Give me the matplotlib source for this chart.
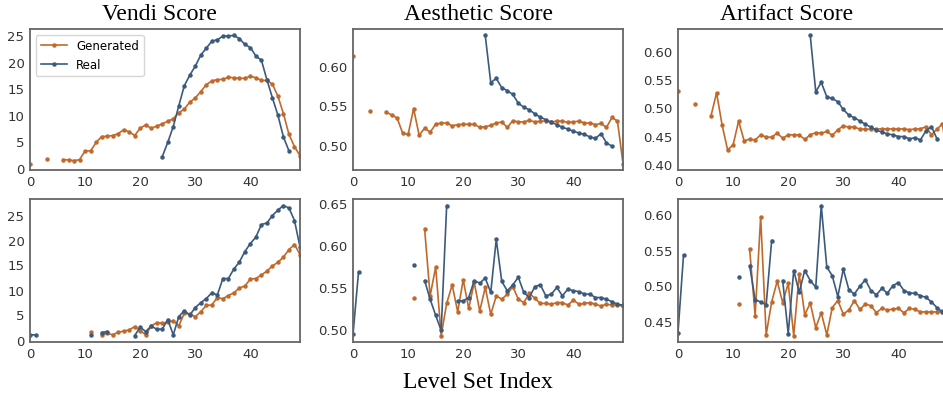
import numpy as np
import matplotlib
matplotlib.use("Agg")
import matplotlib.pyplot as plt
from matplotlib.ticker import MultipleLocator, FormatStrFormatter

nan = np.nan
x = np.arange(50)

# ---- top row ----
vendi_gen_top = [1.0, nan, nan, 1.9, nan, nan, 1.75, 1.7, 1.55, 1.75,
                 3.4, 3.4, 5.0, 6.1, 6.15, 6.3, 6.65, 7.4, 7.0, 6.3,
                 7.7, 8.3, 7.65, 8.1, 8.5, 9.0, 9.45, 10.6, 11.3, 12.6,
                 13.4, 14.6, 15.9, 16.6, 16.85, 16.9, 17.3, 17.2, 17.1, 17.1,
                 17.5, 17.2, 16.7, 16.7, 16.0, 13.7, 10.4, 6.5, 4.2, 2.5]
vendi_real_top = [nan] * 24 + [2.3, 5.0, 8.0, 11.9, 15.7, 17.7, 19.4, 21.5, 22.8, 24.1,
                               24.4, 25.05, 25.1, 25.2, 24.6, 23.5, 22.9, 21.3, 20.5, 16.8,
                               13.4, 10.1, 6.0, 3.4, nan, nan]

aes_gen_top = [0.6134, nan, nan, 0.5445, nan, nan, 0.5424, 0.539, 0.535, 0.516,
               0.514, 0.547, 0.513, 0.522, 0.517, 0.527, 0.5286, 0.5286, 0.525, 0.5265,
               0.527, 0.527, 0.527, 0.523, 0.524, 0.5256, 0.5286, 0.5298, 0.523, 0.5315,
               0.530, 0.530, 0.532, 0.530, 0.531, 0.531, 0.530, 0.531, 0.531, 0.5294,
               0.530, 0.531, 0.5286, 0.5286, 0.5265, 0.528, 0.523, 0.5357, 0.531, 0.477]
aes_real_top = [nan] * 24 + [0.640, 0.580, 0.5853, 0.5735, 0.5697, 0.565, 0.5538, 0.5487, 0.5454, 0.5403,
                             0.536, 0.5328, 0.5294, 0.5265, 0.523, 0.521, 0.518, 0.516, 0.514, 0.511,
                             0.509, 0.515, 0.5034, 0.499, nan, nan]

art_gen_top = [0.5306, nan, nan, 0.5076, nan, nan, 0.487, 0.5276, 0.4706, 0.4265,
               0.435, 0.4776, 0.4424, 0.4453, 0.444, 0.453, 0.449, 0.449, 0.456, 0.447,
               0.453, 0.453, 0.453, 0.445, 0.453, 0.457, 0.456, 0.459, 0.452, 0.462,
               0.469, 0.4665, 0.467, 0.463, 0.463, 0.463, 0.4635, 0.4635, 0.4635, 0.4635,
               0.4635, 0.4635, 0.462, 0.4635, 0.4635, 0.4676, 0.453, 0.4635, 0.472, 0.402]
art_real_top = [nan] * 24 + [0.6294, 0.5294, 0.546, 0.5206, 0.5176, 0.5118, 0.498, 0.488, 0.4835, 0.4776,
                             0.4718, 0.4665, 0.4618, 0.4576, 0.4547, 0.453, 0.450, 0.450, 0.4459, 0.448,
                             0.444, 0.460, 0.4676, 0.4459, nan, nan]

# ---- bottom row ----
vendi_gen_bot = [nan] * 11 + [1.66, nan, 1.13, 1.46, 1.13, 1.66, 1.86, 2.12, 2.8,
                              2.0, 1.13, 2.9, 3.58, 3.45, 3.65, 3.98, 2.92, 5.44, 5.3,
                              4.77, 5.77, 7.03, 7.1, 8.6, 8.36, 9.0, 9.55, 10.5, 10.9,
                              12.3, 12.4, 13.1, 13.9, 14.9, 15.65, 16.7, 18.2, 19.2, 17.2]
vendi_real_bot = [1.13, 1.13, nan, nan, nan, nan, nan, nan, nan, nan,
                  nan, 1.13, nan, 1.6, 1.8, nan, nan, nan, nan, 1.0,
                  2.65, 1.8, 2.9, 2.25, 2.25, 4.2, 1.13, 4.77, 5.97, 5.1,
                  6.6, 7.56, 8.4, 9.55, 9.1, 12.4, 12.4, 14.3, 15.7, 17.8,
                  19.4, 20.7, 23.2, 23.5, 25.0, 26.1, 27.0, 26.5, 24.0, 18.7]

aes_gen_bot = [nan] * 11 + [0.538, nan, 0.620, 0.541, 0.575, 0.494, 0.532, 0.554, 0.522,
                            0.560, 0.526, 0.557, 0.523, 0.551, 0.519, 0.541, 0.537, 0.543, 0.552,
                            0.537, 0.533, 0.544, 0.538, 0.532, 0.532, 0.531, 0.533, 0.533, 0.530,
                            0.536, 0.531, 0.532, 0.533, 0.531, 0.529, 0.531, 0.530, 0.530, 0.529]
aes_real_bot = [0.4952, 0.569, nan, nan, nan, nan, nan, nan, nan, nan,
                nan, 0.578, nan, 0.559, 0.537, 0.518, 0.500, 0.648, nan, 0.535,
                0.535, 0.539, 0.559, 0.556, 0.562, 0.545, 0.608, 0.558, 0.547, 0.554,
                0.563, 0.545, 0.539, 0.552, 0.554, 0.541, 0.543, 0.551, 0.541, 0.549,
                0.547, 0.546, 0.543, 0.543, 0.539, 0.539, 0.537, 0.534, 0.531, 0.530]

art_gen_bot = [nan] * 11 + [0.475, nan, 0.552, 0.459, 0.597, 0.432, 0.478, 0.507, 0.477,
                            0.504, 0.431, 0.517, 0.460, 0.4764, 0.442, 0.463, 0.432, 0.470, 0.480,
                            0.461, 0.4665, 0.480, 0.4675, 0.475, 0.4726, 0.463, 0.469, 0.4665, 0.468,
                            0.469, 0.4627, 0.469, 0.4675, 0.464, 0.464, 0.464, 0.464, 0.465, 0.464]
art_real_bot = [0.435, 0.5436, nan, nan, nan, nan, nan, nan, nan, nan,
                nan, 0.513, nan, 0.529, 0.481, 0.478, 0.474, 0.564, nan, 0.508,
                0.4335, 0.522, 0.4915, 0.522, 0.508, 0.4986, 0.613, 0.527, 0.5146, 0.4854,
                0.524, 0.4953, 0.489, 0.500, 0.509, 0.494, 0.488, 0.497, 0.490, 0.501,
                0.505, 0.494, 0.4906, 0.490, 0.4868, 0.4844, 0.478, 0.470, 0.464, 0.458]

titles = ["Vendi Score", "Aesthetic Score", "Artifact Score"]
title_x = [159, 479, 787]
top_row = [(vendi_gen_top, vendi_real_top), (aes_gen_top, aes_real_top), (art_gen_top, art_real_top)]
bot_row = [(vendi_gen_bot, vendi_real_bot), (aes_gen_bot, aes_real_bot), (art_gen_bot, art_real_bot)]
vendi_ticks = [0, 5, 10, 15, 20, 25]

c_gen = "#c1692a"
c_real = "#3b5a7d"

W, H = 943, 397
fig = plt.figure(figsize=(W / 100, H / 100), dpi=100)

lefts = [30, 353, 678]
width = 270
rows = [(29, 170), (199, 342)]  # (top, bottom) in pixels

for r, data in enumerate([top_row, bot_row]):
    top, bot = rows[r]
    for c in range(3):
        ax = fig.add_axes([lefts[c] / W, (H - bot) / H, width / W, (bot - top) / H])
        gen, real = data[c]
        ax.plot(x, gen, color=c_gen, lw=1.2, marker="o", ms=2.2, label="Generated")
        ax.plot(x, real, color=c_real, lw=1.2, marker="o", ms=2.2, label="Real")
        ax.set_xlim(0, 49)
        ax.set_xticks([0, 10, 20, 30, 40])
        if c == 0:
            ax.set_yticks(vendi_ticks)
        else:
            ax.yaxis.set_major_locator(MultipleLocator(0.05))
            ax.yaxis.set_major_formatter(FormatStrFormatter("%.2f"))
        for s in ax.spines.values():
            s.set_color("#666666")
            s.set_linewidth(1.3)
        ax.tick_params(length=0, pad=4, labelsize=9.5, colors="#333333")
        if r == 0 and c == 0:
            ax.legend(loc="upper left", fontsize=8.5, frameon=True,
                      fancybox=True, edgecolor="#cccccc", handlelength=2.2)

for t, tx in zip(titles, title_x):
    fig.text(tx / W, 1 - 14 / H, t, ha="center", va="center",
             fontsize=17, family="Liberation Serif")

fig.text(478 / W, 1 - 382 / H, "Level Set Index", ha="center", va="center",
         fontsize=17, family="Liberation Serif")

fig.savefig("out.png", dpi=100)
